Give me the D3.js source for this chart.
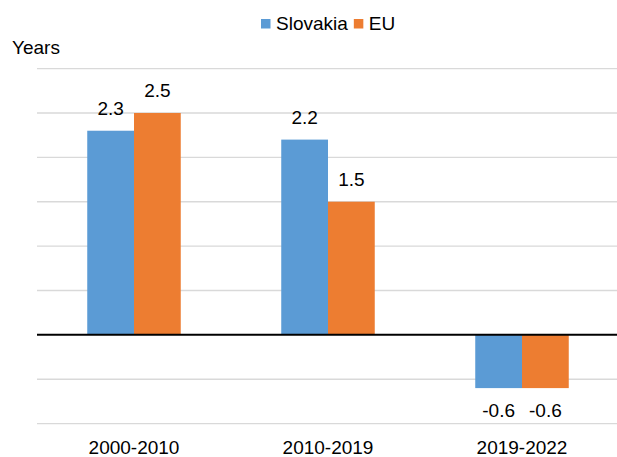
<!DOCTYPE html>
<html>
<head>
<meta charset="utf-8">
<script src="https://cdn.jsdelivr.net/npm/d3@7"></script>
<style>
  html, body { margin: 0; padding: 0; background: #fff; }
  svg { display: block; font-family: "Liberation Sans", Arial, sans-serif; }
</style>
</head>
<body>
<svg id="chart" width="617" height="457"></svg>
<script>
// Change in life expectancy, years
const periods = ["2000-2010", "2010-2019", "2019-2022"];
const seriesNames = ["Slovakia", "EU"];
const slovakia = [2.3, 2.2, -0.6];
const eu = [2.5, 1.5, -0.6];
const yTicks = [-1, -0.5, 0, 0.5, 1, 1.5, 2, 2.5, 3];
const colors = ["#5B9BD5", "#ED7D31"];

const svg = d3.select("#chart");
const FS = 19;
const plot = { left: 37, right: 619, top: 68.6, bottom: 423.6 };

const y = d3.scaleLinear().domain([-1, 3]).range([plot.bottom, plot.top]);
const x0 = d3.scaleBand().domain(periods).range([plot.left, plot.right]).paddingInner(0.518).paddingOuter(0.259);
const x1 = d3.scaleBand().domain(seriesNames).range([0, x0.bandwidth()]);

// horizontal gridlines
svg.append("g").selectAll("line")
  .data(yTicks.filter(t => t !== 0))
  .join("line")
  .attr("x1", plot.left).attr("x2", plot.right)
  .attr("y1", d => y(d)).attr("y2", d => y(d))
  .attr("stroke", "#d9d9d9").attr("stroke-width", 1.3);

const rows = periods.map((p, i) => ({ period: p, values: [slovakia[i], eu[i]] }));

const groups = svg.append("g").selectAll("g")
  .data(rows)
  .join("g")
  .attr("transform", d => `translate(${x0(d.period)},0)`);

const cells = d => d.values.map((v, j) => ({ name: seriesNames[j], v, j }));

groups.selectAll("rect")
  .data(cells)
  .join("rect")
  .attr("x", d => x1(d.name))
  .attr("width", x1.bandwidth())
  .attr("y", d => y(Math.max(0, d.v)))
  .attr("height", d => Math.abs(y(d.v) - y(0)))
  .attr("fill", d => colors[d.j]);

// value labels
groups.selectAll("text")
  .data(cells)
  .join("text")
  .attr("x", d => x1(d.name) + x1.bandwidth() / 2)
  .attr("y", d => d.v >= 0 ? y(d.v) - 16 : y(d.v) + 29)
  .attr("text-anchor", "middle")
  .attr("font-size", FS)
  .attr("fill", "#000")
  .text(d => d3.format(".1f")(d.v).replace("\u2212", "-"));

// zero baseline
svg.append("line")
  .attr("x1", plot.left).attr("x2", plot.right)
  .attr("y1", y(0)).attr("y2", y(0))
  .attr("stroke", "#000").attr("stroke-width", 2);

// category axis labels
const xAxis = d3.axisBottom(x0).tickSize(0).tickPadding(0);
const xg = svg.append("g").attr("transform", `translate(0,${plot.bottom})`).call(xAxis);
xg.select(".domain").remove();
xg.selectAll("text")
  .attr("font-size", FS)
  .attr("font-family", "Liberation Sans, Arial, sans-serif")
  .attr("fill", "#000")
  .attr("dy", null)
  .attr("y", 30);

// axis title
svg.append("text")
  .attr("x", 12).attr("y", 54)
  .attr("font-size", FS)
  .attr("fill", "#000")
  .text("Years");

// legend
const legend = svg.append("g").attr("transform", "translate(261,0)");
let lx = 0;
seriesNames.forEach((name, i) => {
  legend.append("rect")
    .attr("x", lx).attr("y", 19).attr("width", 9.5).attr("height", 9.5)
    .attr("fill", colors[i]);
  const t = legend.append("text")
    .attr("x", lx + 15).attr("y", 29.5)
    .attr("font-size", FS)
    .attr("fill", "#000")
    .text(name);
  lx += 15 + t.node().getComputedTextLength() + 6;
});
</script>
</body>
</html>
